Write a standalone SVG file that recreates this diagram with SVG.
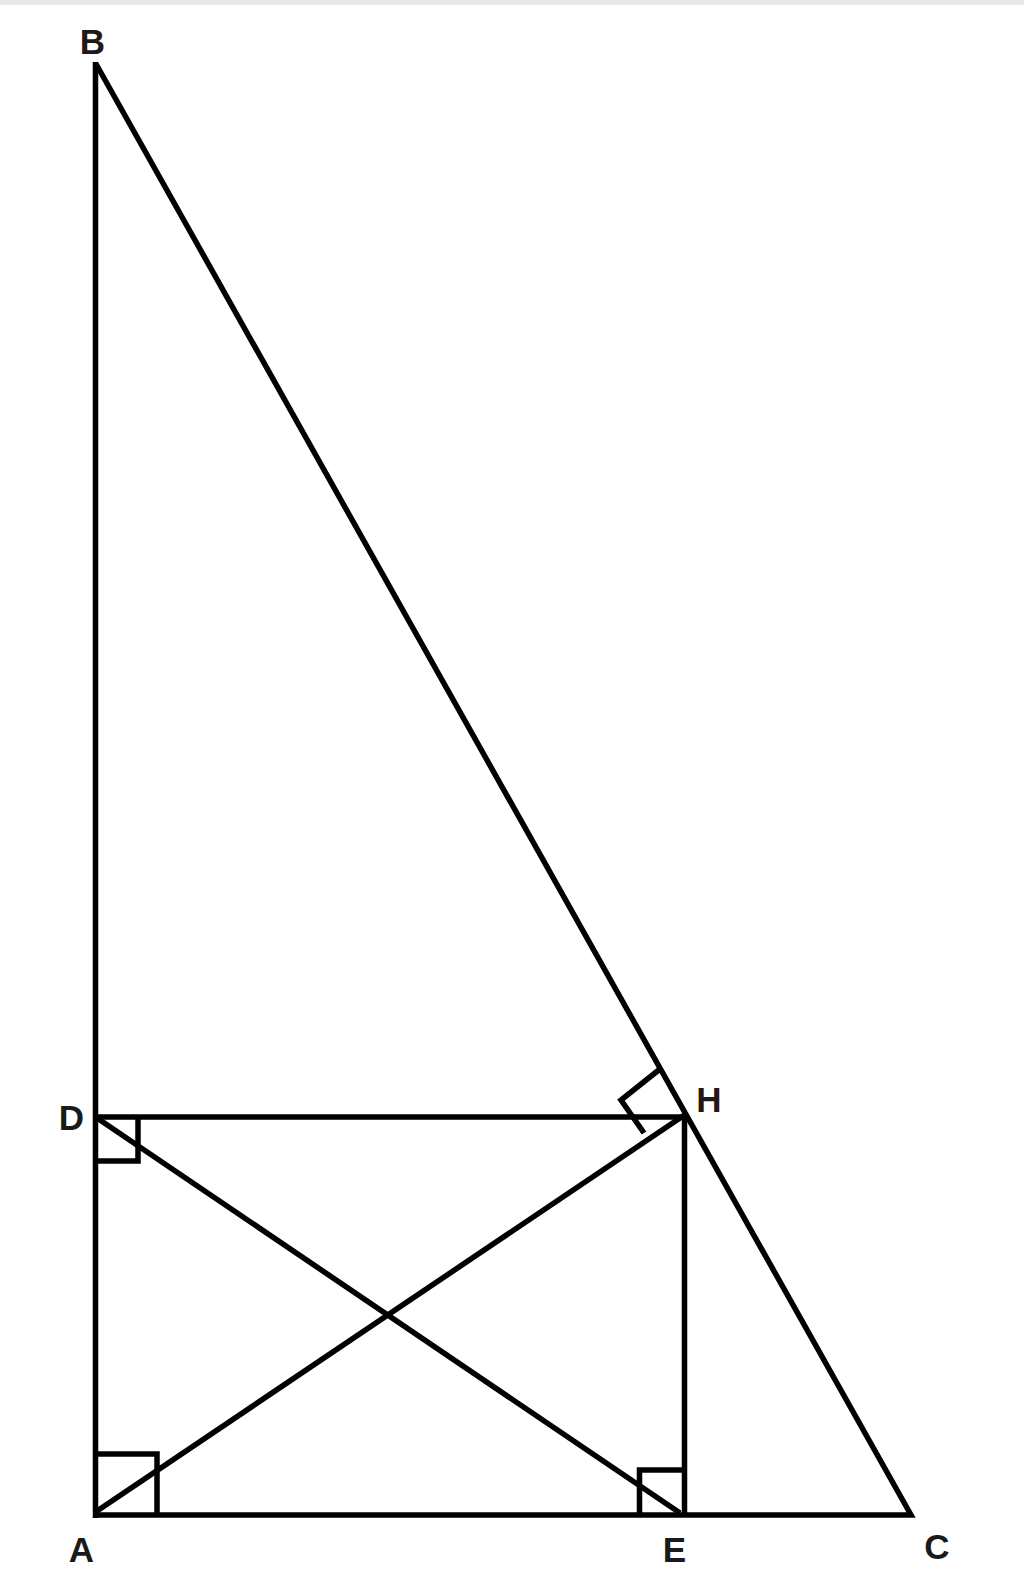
<svg xmlns="http://www.w3.org/2000/svg" width="1024" height="1594" viewBox="0 0 1024 1594">
<style>
.ln{stroke:#000;stroke-width:5.5;fill:none;stroke-linecap:butt;stroke-linejoin:miter}
.mk{stroke:#000;stroke-width:5.5;fill:none;stroke-linejoin:miter}
.lb{font-family:"Liberation Sans",Arial,sans-serif;font-weight:bold;font-size:35px;fill:#1a1a1a;text-anchor:middle}
</style>
<rect x="0" y="0" width="1024" height="1594" fill="#fff"/>
<rect x="0" y="0" width="1024" height="5" fill="#ebe7e4"/>
<g id="connectors">
<line class="ln" x1="95.5" y1="62" x2="95.5" y2="1518"/>
<polyline class="ln" points="95.5,63 911,1515 93,1515"/>
<line class="ln" x1="95.5" y1="1117" x2="684.5" y2="1117"/>
<line class="ln" x1="684.5" y1="1114" x2="684.5" y2="1515"/>
<line class="ln" x1="95.5" y1="1117" x2="680" y2="1513"/>
<line class="ln" x1="97" y1="1511" x2="684.5" y2="1115"/>
</g>
<g id="marks">
<polyline class="mk" points="95.5,1161 138,1161 138,1117"/>
<polyline class="mk" points="95.5,1454 157,1454 157,1515"/>
<polyline class="mk" points="639.5,1515 639.5,1470 684.5,1470"/>
<polyline class="mk" points="660,1069 621,1100 644,1133"/>
</g>
<g id="node-B"><text class="lb" x="92.5" y="54">B</text></g>
<g id="node-D"><text class="lb" x="71.5" y="1130">D</text></g>
<g id="node-H"><text class="lb" x="709" y="1112">H</text></g>
<g id="node-A"><text class="lb" x="81.5" y="1562">A</text></g>
<g id="node-E"><text class="lb" x="674.5" y="1562">E</text></g>
<g id="node-C"><text class="lb" x="937" y="1559">C</text></g>
</svg>
